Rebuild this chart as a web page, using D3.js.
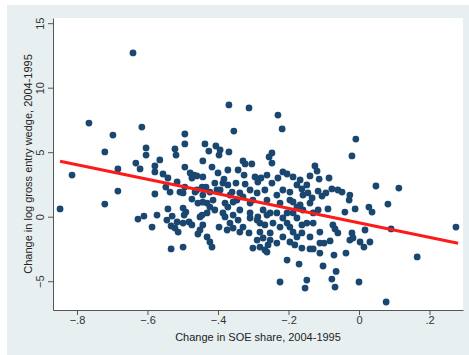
<!DOCTYPE html>
<html>
<head>
<meta charset="utf-8">
<script src="https://cdn.jsdelivr.net/npm/d3@7"></script>
<style>
  html, body { margin: 0; padding: 0; background: #ffffff; }
  svg { display: block; }
  text { font-family: "Liberation Sans", Arial, Helvetica, sans-serif; }
</style>
</head>
<body>
<svg id="chart" width="469" height="355"></svg>
<script>
// ---- data ----
const xTicks = [-0.8, -0.6, -0.4, -0.2, 0, 0.2];
const yTicks = [-5, 0, 5, 10, 15];
const xTitle = "Change in SOE share, 2004-1995";
const yTitle = "Change in log gross entry wedge, 2004-1995";
// fitted line endpoints [x, y]
const fitX = [-0.848, 0.281];
const fitY = [4.30, -2.05];
// scatter points [change in SOE share, change in log gross entry wedge]
const points = [
[-0.848,0.60],[-0.814,3.23],[-0.766,7.26],[-0.721,5.02],[-0.721,0.98],[-0.698,6.33],[-0.684,3.70],[-0.684,1.99],[-0.641,12.69],[-0.633,4.16],[-0.627,-0.18],[-0.621,3.70],[-0.616,6.95],[-0.610,0.05],[-0.604,5.33],[-0.604,4.78],
[-0.587,-0.80],[-0.579,3.93],[-0.579,3.47],[-0.579,1.76],[-0.573,0.13],[-0.565,4.40],[-0.556,3.31],[-0.542,3.00],[-0.548,2.30],[-0.542,0.60],[-0.536,1.91],[-0.533,-0.72],[-0.533,-2.50],[-0.530,0.05],[-0.522,-0.88],[-0.522,5.25],[-0.519,4.78],[-0.516,2.69],[-0.516,-0.41],[-0.513,-1.19],[-0.508,1.91],[-0.499,0.67],[-0.499,-2.35],[-0.499,-0.49],[-0.496,0.13],[-0.494,6.41],[-0.494,5.64],[-0.494,3.85],[-0.494,2.30],[-0.491,0.36],[-0.482,-0.41],[-0.479,3.39],[-0.474,3.00],[-0.474,1.37],[-0.474,-0.64],[-0.468,3.23],[-0.465,1.91],[-0.460,3.16],[-0.460,2.07],[-0.457,1.06],[-0.457,-1.34],[-0.451,-0.02],[-0.451,-1.03],
[-0.445,2.30],[-0.445,0.13],[-0.443,4.32],[-0.443,3.08],[-0.443,1.68],[-0.437,5.64],[-0.434,2.30],[-0.431,1.06],[-0.431,0.29],[-0.431,-1.57],[-0.426,5.09],[-0.423,1.91],[-0.423,0.75],[-0.423,-1.96],[-0.417,3.85],[-0.417,-2.35],[-0.414,1.29],[-0.409,2.61],[-0.409,0.52],[-0.406,5.48],[-0.403,2.07],[-0.400,3.39],[-0.397,4.78],[-0.397,-0.80],[-0.394,5.17],[-0.394,2.07],[-0.386,2.61],[-0.386,0.29],[-0.383,2.92],[-0.380,1.06],[-0.380,-0.02],[-0.374,-1.03],[-0.372,3.62],[-0.372,2.46],[-0.372,0.75],[-0.369,8.66],[-0.369,5.02],[-0.366,1.68],[-0.366,-0.49],[-0.360,1.91],[-0.355,6.64],[-0.357,0.13],[-0.357,-0.88],[-0.349,2.61],[-0.346,1.29],[-0.343,3.62],[-0.343,-0.26],[-0.338,1.84],[-0.338,0.52],[-0.338,-1.19],[-0.329,4.32],[-0.329,1.53],[-0.329,-0.80],[-0.326,3.23],[-0.323,4.09],[-0.323,2.53],[-0.312,8.43],[-0.312,-1.26],[-0.309,1.06],[-0.309,0.29],[-0.309,2.07],
[-0.304,4.09],[-0.301,1.29],[-0.301,-2.43],[-0.295,3.08],[-0.289,1.84],[-0.289,-0.26],[-0.289,-1.81],[-0.287,2.69],[-0.287,-0.02],[-0.281,-0.49],[-0.281,-1.19],[-0.281,-2.35],[-0.278,3.00],[-0.272,0.52],[-0.272,-1.65],[-0.267,2.07],[-0.267,-0.64],[-0.267,-2.58],[-0.261,3.23],[-0.261,1.29],[-0.261,0.13],[-0.261,-2.74],[-0.258,-2.19],[-0.255,4.63],[-0.252,0.29],[-0.252,-1.26],[-0.252,-1.81],[-0.247,4.94],[-0.247,4.16],[-0.247,2.61],[-0.244,-0.49],[-0.233,1.68],[-0.233,0.29],[-0.233,-2.04],[-0.230,7.88],[-0.230,3.00],[-0.224,1.06],[-0.224,-0.80],[-0.224,-5.06],[-0.218,6.80],[-0.216,3.47],[-0.216,2.07],[-0.216,-0.10],[-0.216,-1.57],[-0.204,3.31],[-0.204,0.29],[-0.204,-0.49],[-0.204,-3.36],[-0.196,1.29],[-0.196,-0.80],[-0.196,-1.96],[-0.187,3.08],[-0.187,1.14],[-0.187,0.29],[-0.187,-1.19],[-0.182,-2.19],[-0.176,2.46],[-0.176,0.75],[-0.176,-0.10],[-0.176,-1.57],[-0.170,-3.67],
[-0.167,2.85],[-0.167,0.91],[-0.162,2.15],[-0.162,-0.64],[-0.162,-1.26],[-0.162,-2.43],[-0.159,1.68],[-0.159,0.52],[-0.153,-5.53],[-0.148,2.46],[-0.148,-0.49],[-0.148,-4.91],[-0.145,1.84],[-0.139,3.16],[-0.139,1.06],[-0.139,-1.57],[-0.139,-2.50],[-0.133,1.45],[-0.130,0.29],[-0.130,-0.49],[-0.130,-2.50],[-0.125,3.93],[-0.119,3.54],[-0.116,1.99],[-0.116,0.52],[-0.113,2.92],[-0.111,-1.19],[-0.111,-2.04],[-0.111,-2.82],[-0.105,1.60],[-0.102,-3.82],[-0.099,-2.04],[-0.094,1.84],[-0.088,0.60],[-0.085,3.00],[-0.082,-1.88],[-0.077,2.15],[-0.077,-4.83],[-0.074,-0.64],[-0.068,-0.95],[-0.071,-2.97],[-0.065,-4.24],[-0.068,-5.45],[-0.060,2.07],[-0.060,-1.26],[-0.048,1.91],[-0.040,0.36],[-0.037,-2.82],[-0.028,1.29],[-0.026,1.68],[-0.026,-1.81],[-0.020,4.71],[-0.020,-1.26],[-0.017,-1.65],[-0.011,0.60],[-0.009,6.02],[0.000,-5.06],[0.003,-1.96],[0.014,-2.35],[0.017,-1.03],[0.028,0.75],[0.031,-1.96],[0.037,0.36],[0.048,2.38],[0.077,-6.61],[0.082,0.98],[0.091,-0.95],[0.113,2.22],[0.165,-3.12],[0.275,-0.80],
[-0.443,1.13],[-0.443,-0.64],[-0.309,-0.10],[-0.499,1.84],[-0.545,-0.26],[-0.357,1.14],[-0.196,1.91]
];

// ---- layout ----
const W = 469, H = 355;
const plot = { left: 53, right: 463, top: 18, bottom: 310 };
const svg = d3.select("#chart");

// outer graph region background
svg.append("rect").attr("x", 7).attr("y", 5).attr("width", W - 7).attr("height", H - 5)
  .attr("fill", "#e8eff0");
// plot region
svg.append("rect").attr("x", plot.left).attr("y", plot.top)
  .attr("width", plot.right - plot.left).attr("height", plot.bottom - plot.top)
  .attr("fill", "#ffffff");

const x = d3.scaleLinear().domain([-0.868, 0.295]).range([plot.left, plot.right]);
const y = d3.scaleLinear().domain([-7.23, 15.40]).range([plot.bottom, plot.top]);

const fmtX = d => d === 0 ? "0" : d3.format(".1f")(d).replace("0.", ".");

// x axis
const gx = svg.append("g").attr("transform", `translate(0,${plot.bottom})`)
  .call(d3.axisBottom(x).tickValues(xTicks).tickFormat(fmtX).tickSize(5).tickSizeOuter(0));
gx.select(".domain").attr("stroke", "#555").attr("stroke-width", 1);
gx.selectAll(".tick line").attr("stroke", "#555");
gx.selectAll(".tick text").attr("font-size", 11).attr("fill", "#333").attr("dy", "0.6em").attr("y", 7);

// y axis
const gy = svg.append("g").attr("transform", `translate(${plot.left},0)`)
  .call(d3.axisLeft(y).tickValues(yTicks).tickFormat(d3.format("d")).tickSize(5).tickSizeOuter(0));
gy.select(".domain").attr("stroke", "#555").attr("stroke-width", 1);
gy.selectAll(".tick line").attr("stroke", "#555");
gy.selectAll(".tick text")
  .attr("font-size", 11).attr("fill", "#333")
  .attr("x", null).attr("dy", null)
  .attr("text-anchor", "middle")
  .attr("transform", "translate(-9,0) rotate(-90)");

// axis titles
svg.append("text").attr("x", (plot.left + plot.right) / 2).attr("y", 341)
  .attr("text-anchor", "middle").attr("font-size", 11).attr("fill", "#222").text(xTitle);
svg.append("text")
  .attr("transform", `translate(32,${(plot.top + plot.bottom) / 2}) rotate(-90)`)
  .attr("text-anchor", "middle").attr("font-size", 11).attr("fill", "#222").text(yTitle);

// points
svg.append("g").selectAll("circle").data(points).join("circle")
  .attr("cx", d => x(d[0])).attr("cy", d => y(d[1])).attr("r", 3.4)
  .attr("fill", "#1a476f");

// fitted line
svg.append("line")
  .attr("x1", x(fitX[0])).attr("y1", y(fitY[0]))
  .attr("x2", x(fitX[1])).attr("y2", y(fitY[1]))
  .attr("stroke", "#ff1a1a").attr("stroke-width", 3);
</script>
</body>
</html>
